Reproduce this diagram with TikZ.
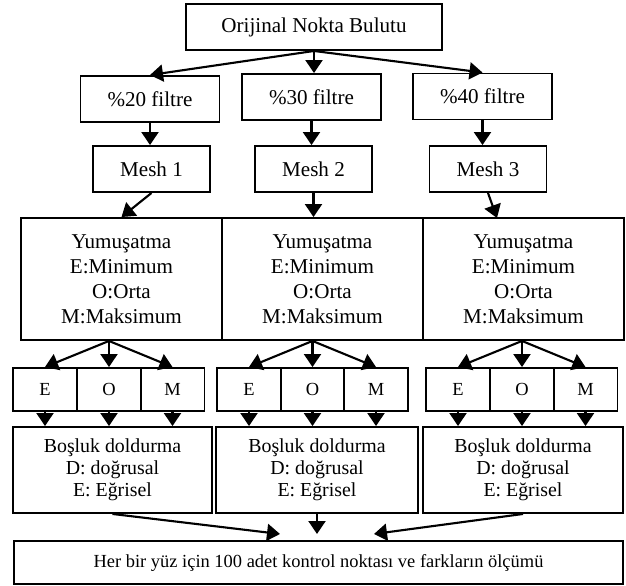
\documentclass[tikz,border=0pt]{standalone}
\usepackage{fontspec}
\setmainfont{Liberation Serif}
\usetikzlibrary{arrows.meta}

\begin{document}
\begin{tikzpicture}[
        box/.style={rectangle, draw=black, line width=1.1pt, inner sep=0pt, align=center, font=\fontsize{12}{14.2}\selectfont},
        mainbox/.style={box, minimum width=5.12cm, minimum height=0.92cm},
        filterbox/.style={box, minimum width=2.78cm, minimum height=0.92cm},
        meshbox/.style={box, minimum width=2.34cm, minimum height=0.92cm},
        smoothbox/.style={box, minimum width=4.02cm, minimum height=2.44cm},
        levelbox/.style={box, minimum width=1.28cm, minimum height=0.86cm, font=\fontsize{10.5}{12}\selectfont},
        fillbox/.style={box, minimum height=1.72cm, font=\fontsize{11.3}{12.6}\selectfont},
        resultbox/.style={box, minimum width=12.18cm, minimum height=0.86cm, font=\fontsize{10.5}{12}\selectfont},
        arrow/.style={-{Triangle[length=0.26cm, width=0.34cm]}, line width=1.2pt}
    ]
    \useasboundingbox (0,0) rectangle (12.52,-11.72);

    % Point cloud and filters
    \node[mainbox] (cloud) at (6.28, -0.54) {Orijinal Nokta Bulutu};
    \node[filterbox] (f20) at (3.0, -1.98) {\%20 filtre};
    \node[filterbox] (f30) at (6.23, -1.94) {\%30 filtre};
    \node[filterbox] (f40) at (9.65, -1.93) {\%40 filtre};

    % Meshes
    \node[meshbox] (mesh1) at (3.03, -3.38) {Mesh 1};
    \node[meshbox] (mesh2) at (6.27, -3.38) {Mesh 2};
    \node[meshbox] (mesh3) at (9.76, -3.38) {Mesh 3};

    % Smoothing
    \node[smoothbox] (smooth1) at (2.43, -5.58) {Yumuşatma\\E:Minimum\\O:Orta\\M:Maksimum};
    \node[smoothbox] (smooth2) at (6.45, -5.58) {Yumuşatma\\E:Minimum\\O:Orta\\M:Maksimum};
    \node[smoothbox] (smooth3) at (10.47, -5.58) {Yumuşatma\\E:Minimum\\O:Orta\\M:Maksimum};

    % Smoothing levels
    \node[levelbox] (e1) at (0.9, -7.79) {E};
    \node[levelbox] (o1) at (2.18, -7.79) {O};
    \node[levelbox] (m1) at (3.45, -7.79) {M};
    \node[levelbox] (e2) at (4.98, -7.79) {E};
    \node[levelbox] (o2) at (6.25, -7.79) {O};
    \node[levelbox] (m2) at (7.52, -7.79) {M};
    \node[levelbox] (e3) at (9.16, -7.79) {E};
    \node[levelbox] (o3) at (10.44, -7.79) {O};
    \node[levelbox] (m3) at (11.71, -7.79) {M};

    % Hole filling
    \node[fillbox, minimum width=3.98cm] (fill1) at (2.25, -9.4) {Boşluk doldurma\\D: doğrusal\\E: Eğrisel};
    \node[fillbox, minimum width=4.04cm] (fill2) at (6.34, -9.4) {Boşluk doldurma\\D: doğrusal\\E: Eğrisel};
    \node[fillbox, minimum width=4.0cm] (fill3) at (10.46, -9.4) {Boşluk doldurma\\D: doğrusal\\E: Eğrisel};

    % Result
    \node[resultbox] (result) at (6.37, -11.25) {Her bir yüz için 100 adet kontrol noktası ve farkların ölçümü};

    \coordinate (smooth3in) at (9.94, -4.36);
    \coordinate (resultL) at (5.6, -10.68);
    \coordinate (resultM) at (6.34, -10.68);
    \coordinate (resultR) at (7.48, -10.68);

    % Arrows
    \draw[arrow] (cloud.south) -- (f20.north);
    \draw[arrow] (cloud.south) -- (cloud.south |- f30.north);
    \draw[arrow] (cloud.south) -- (f40.north);

    \draw[arrow] (f20.south) -- (f20.south |- mesh1.north);
    \draw[arrow] (f30.south) -- (f30.south |- mesh2.north);
    \draw[arrow] (f40.south) -- (f40.south |- mesh3.north);

    \draw[arrow] (mesh1.south) -- (smooth1.north);
    \draw[arrow] (mesh2.south) -- (mesh2.south |- smooth2.north);
    \draw[arrow] (mesh3.south) -- (smooth3in);

    \draw[arrow] (o1.north |- smooth1.south) -- (e1.north);
    \draw[arrow] (o1.north |- smooth1.south) -- (o1.north);
    \draw[arrow] (o1.north |- smooth1.south) -- (m1.north);
    \draw[arrow] (o2.north |- smooth2.south) -- (e2.north);
    \draw[arrow] (o2.north |- smooth2.south) -- (o2.north);
    \draw[arrow] (o2.north |- smooth2.south) -- (m2.north);
    \draw[arrow] (o3.north |- smooth3.south) -- (e3.north);
    \draw[arrow] (o3.north |- smooth3.south) -- (o3.north);
    \draw[arrow] (o3.north |- smooth3.south) -- (m3.north);

    \draw[arrow] (e1.south) -- (e1.south |- fill1.north);
    \draw[arrow] (o1.south) -- (o1.south |- fill1.north);
    \draw[arrow] (m1.south) -- (m1.south |- fill1.north);
    \draw[arrow] (e2.south) -- (e2.south |- fill2.north);
    \draw[arrow] (o2.south) -- (o2.south |- fill2.north);
    \draw[arrow] (m2.south) -- (m2.south |- fill2.north);
    \draw[arrow] (e3.south) -- (e3.south |- fill3.north);
    \draw[arrow] (o3.south) -- (o3.south |- fill3.north);
    \draw[arrow] (m3.south) -- (m3.south |- fill3.north);

    \draw[arrow] (fill1.south) -- (resultL);
    \draw[arrow] (fill2.south) -- (resultM);
    \draw[arrow] (fill3.south) -- (resultR);

\end{tikzpicture}
\end{document}
